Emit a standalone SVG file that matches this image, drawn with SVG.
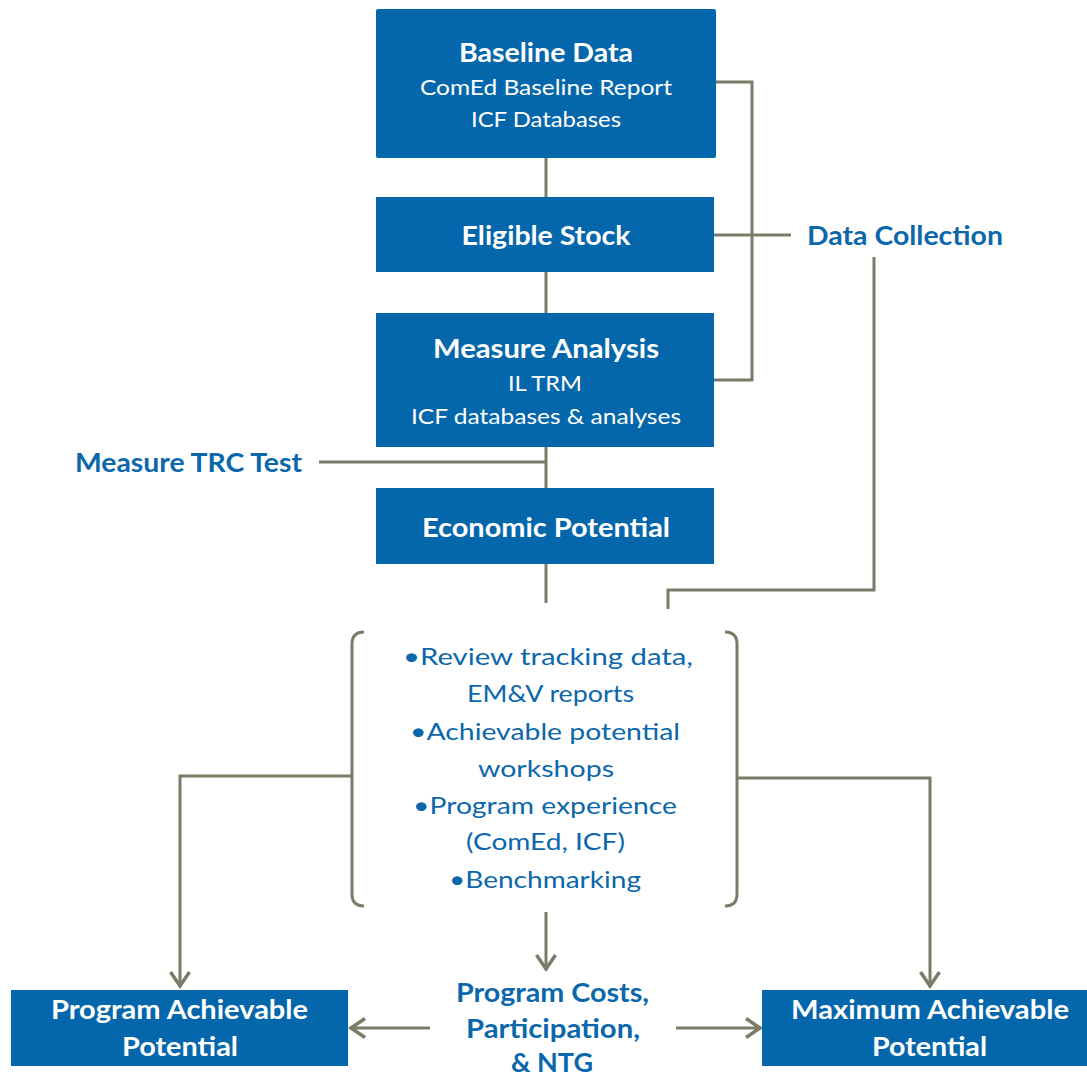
<svg xmlns="http://www.w3.org/2000/svg" width="1087" height="1078" viewBox="0 0 1087 1078">
<style>
.box{fill:#0567AB}
.t{font-family:Lato,"Open Sans","Liberation Sans",sans-serif;text-anchor:middle}
.tb{font-weight:bold;font-size:26px;fill:#fff}
.ts{font-size:22px;fill:#fff}
.lb{font-weight:bold;font-size:26px;fill:#0B67AC}
.bl{font-size:23.5px;fill:#0B67AC}
.ln{fill:none;stroke:#7B7B67;stroke-width:3}
</style>
<defs>
<marker id="ah" markerUnits="userSpaceOnUse" markerWidth="22" markerHeight="26" viewBox="-18 -13 22 26" refX="0" refY="0" orient="auto">
<path d="M-15,-9.5 L-1,0 L-15,9.5" fill="none" stroke="#7B7B67" stroke-width="3.5"/>
</marker>
</defs>
<rect width="1087" height="1078" fill="#fff"/>
<g id="connectors">
<path class="ln" d="M546,157 V197 M546,272 V313 M546,447 V488 M546,564 V603"/>
<path class="ln" d="M319,462 H546"/>
<path class="ln" d="M716,82 H752 V380 H714"/>
<path class="ln" d="M714,235 H791"/>
<path class="ln" d="M874,257 V590 H668 V609"/>
<path class="ln" d="M364,632 Q352,632 352,644 V894 Q352,906 364,906"/>
<path class="ln" d="M725,632 Q737,632 737,644 V894 Q737,906 725,906"/>
<path class="ln" d="M352,776 H180 V987" marker-end="url(#ah)"/>
<path class="ln" d="M737,778 H930 V987" marker-end="url(#ah)"/>
<path class="ln" d="M546,912 V970" marker-end="url(#ah)"/>
<path class="ln" d="M430,1028 H350" marker-end="url(#ah)"/>
<path class="ln" d="M676,1028 H761" marker-end="url(#ah)"/>
</g>
<g id="baseline">
<rect class="box" x="376" y="9" width="340" height="149" rx="2"/>
<text class="t tb" x="546" y="62" textLength="174" lengthAdjust="spacingAndGlyphs">Baseline Data</text>
<text class="t ts" x="546" y="95" textLength="252" lengthAdjust="spacingAndGlyphs">ComEd Baseline Report</text>
<text class="t ts" x="546" y="127" textLength="150" lengthAdjust="spacingAndGlyphs">ICF Databases</text>
</g>
<g id="eligible">
<rect class="box" x="376" y="197" width="338" height="75"/>
<text class="t tb" x="546" y="245" textLength="169" lengthAdjust="spacingAndGlyphs">Eligible Stock</text>
</g>
<g id="measure">
<rect class="box" x="376" y="313" width="338" height="134"/>
<text class="t tb" x="546" y="358" textLength="226" lengthAdjust="spacingAndGlyphs">Measure Analysis</text>
<text class="t ts" x="545" y="391" textLength="74" lengthAdjust="spacingAndGlyphs">IL TRM</text>
<text class="t ts" x="546" y="424" textLength="270" lengthAdjust="spacingAndGlyphs">ICF databases &amp; analyses</text>
</g>
<g id="economic">
<rect class="box" x="376" y="488" width="338" height="76"/>
<text class="t tb" x="546" y="537" textLength="248" lengthAdjust="spacingAndGlyphs">Economic Potential</text>
</g>
<g id="trc">
<text class="t lb" x="188.5" y="472" textLength="227" lengthAdjust="spacingAndGlyphs">Measure TRC Test</text>
</g>
<g id="datacollection">
<text class="t lb" x="905" y="245" textLength="196" lengthAdjust="spacingAndGlyphs">Data Collection</text>
</g>
<g id="review">
<text class="t bl" x="548" y="665" textLength="290" lengthAdjust="spacingAndGlyphs">•Review tracking data,</text>
<text class="t bl" x="550.5" y="702" textLength="167" lengthAdjust="spacingAndGlyphs">EM&amp;V reports</text>
<text class="t bl" x="545" y="739.5" textLength="270" lengthAdjust="spacingAndGlyphs">•Achievable potential</text>
<text class="t bl" x="546" y="776.5" textLength="136" lengthAdjust="spacingAndGlyphs">workshops</text>
<text class="t bl" x="545" y="814" textLength="264" lengthAdjust="spacingAndGlyphs">•Program experience</text>
<text class="t bl" x="545.5" y="850" textLength="159" lengthAdjust="spacingAndGlyphs">(ComEd, ICF)</text>
<text class="t bl" x="545" y="888" textLength="192" lengthAdjust="spacingAndGlyphs">•Benchmarking</text>
</g>
<g id="programcosts">
<text class="t lb" x="552.5" y="1002" textLength="193" lengthAdjust="spacingAndGlyphs">Program Costs,</text>
<text class="t lb" x="553" y="1038" textLength="174" lengthAdjust="spacingAndGlyphs">Participation,</text>
<text class="t lb" x="552" y="1072" textLength="82" lengthAdjust="spacingAndGlyphs">&amp; NTG</text>
</g>
<g id="programachievable">
<rect class="box" x="11" y="990" width="337" height="76"/>
<text class="t tb" x="179.5" y="1019" textLength="257" lengthAdjust="spacingAndGlyphs">Program Achievable</text>
<text class="t tb" x="180" y="1056" textLength="116" lengthAdjust="spacingAndGlyphs">Potential</text>
</g>
<g id="maxachievable">
<rect class="box" x="762" y="990" width="325" height="76"/>
<text class="t tb" x="930" y="1019" textLength="278" lengthAdjust="spacingAndGlyphs">Maximum Achievable</text>
<text class="t tb" x="929.5" y="1056" textLength="115" lengthAdjust="spacingAndGlyphs">Potential</text>
</g>
</svg>
